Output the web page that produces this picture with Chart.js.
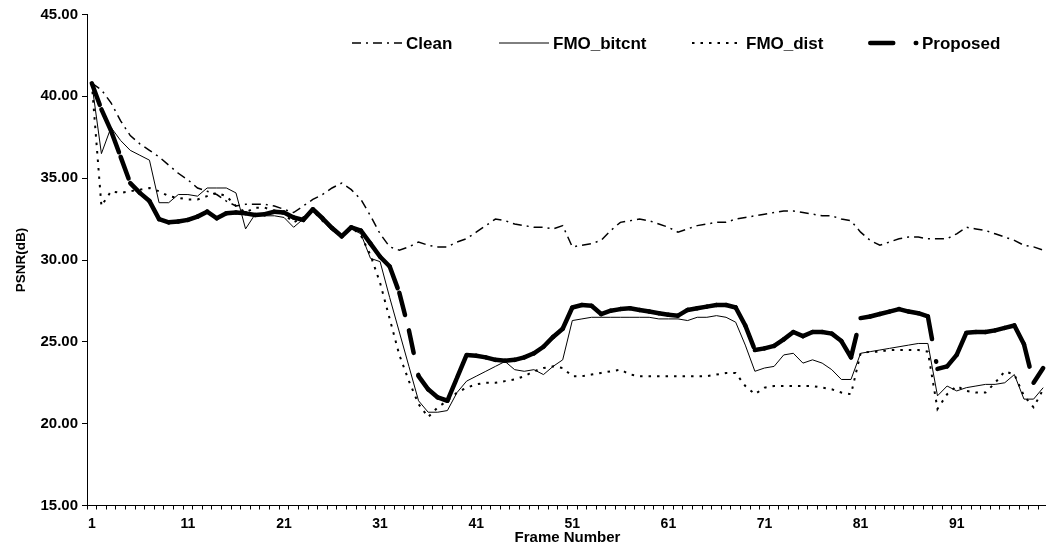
<!DOCTYPE html>
<html>
<head>
<meta charset="utf-8">
<script src="https://cdn.jsdelivr.net/npm/chart.js@4.4.1/dist/chart.umd.min.js"></script>
<style>
  html, body { margin: 0; padding: 0; background: #ffffff; overflow: hidden; width: 1046px; height: 549px; }
  #wrap { width: 1050px; height: 549px; }
  canvas { display: block; }
</style>
</head>
<body>
<div id="wrap"><canvas id="c" width="1050" height="549"></canvas></div>
<script>
// ---------------- DATA ----------------
const frames = [1,2,3,4,5,6,7,8,9,10,11,12,13,14,15,16,17,18,19,20,
  21,22,23,24,25,26,27,28,29,30,31,32,33,34,35,36,37,38,39,40,
  41,42,43,44,45,46,47,48,49,50,51,52,53,54,55,56,57,58,59,60,
  61,62,63,64,65,66,67,68,69,70,71,72,73,74,75,76,77,78,79,80,
  81,82,83,84,85,86,87,88,89,90,91,92,93,94,95,96,97,98,99,100];

const xTickLabels = [1, 11, 21, 31, 41, 51, 61, 71, 81, 91];
const yMin = 15, yMax = 45, yStep = 5;

const seriesNames = ['Clean', 'FMO_bitcnt', 'FMO_dist', 'Proposed'];

const clean = [40.8,40.4,39.6,38.5,37.6,37.1,36.7,36.3,35.8,35.3,
  34.9,34.4,34.2,34.0,33.6,33.3,33.4,33.4,33.4,33.3,
  33.1,32.9,33.3,33.7,34.0,34.4,34.7,34.3,33.7,32.7,
  31.6,30.8,30.6,30.8,31.1,30.9,30.8,30.8,31.1,31.3,
  31.7,32.1,32.5,32.4,32.2,32.1,32.0,32.0,31.9,32.1,
  30.8,30.9,31.0,31.2,31.8,32.3,32.4,32.5,32.4,32.2,
  32.0,31.7,31.9,32.1,32.2,32.3,32.3,32.5,32.6,32.7,
  32.8,32.9,33.0,33.0,32.9,32.8,32.7,32.7,32.5,32.4,
  31.7,31.2,30.9,31.1,31.3,31.4,31.4,31.3,31.3,31.3,
  31.6,32.0,31.9,31.8,31.6,31.4,31.2,30.9,30.8,30.6];

const fmoBitcnt = [40.8,36.5,38.1,37.3,36.7,36.4,36.1,33.5,33.5,34.0,
  34.0,33.9,34.4,34.4,34.4,34.1,31.9,32.8,32.7,32.7,
  32.6,32.0,32.5,33.0,32.4,31.8,31.4,31.9,31.6,30.1,
  29.9,27.7,25.6,23.5,21.4,20.7,20.7,20.8,21.9,22.6,
  22.9,23.2,23.5,23.8,23.3,23.2,23.3,23.0,23.5,23.9,
  26.3,26.4,26.5,26.5,26.5,26.5,26.5,26.5,26.5,26.4,
  26.4,26.4,26.3,26.5,26.5,26.6,26.5,26.2,24.8,23.2,
  23.4,23.5,24.2,24.3,23.7,23.9,23.7,23.3,22.7,22.7,
  24.3,24.4,24.5,24.6,24.7,24.8,24.9,24.9,21.7,22.3,
  22.0,22.2,22.3,22.4,22.4,22.5,23.0,21.5,21.5,22.2];

const fmoDist = [40.8,33.3,34.2,34.1,34.2,34.3,34.4,34.2,33.9,33.8,
  33.7,33.7,33.9,34.1,33.9,33.3,32.9,33.2,33.2,33.0,
  32.8,32.3,32.6,33.0,32.4,31.9,31.5,32.0,31.5,30.3,
  28.6,26.4,24.2,22.6,21.2,20.4,21.0,21.4,21.9,22.2,
  22.4,22.5,22.5,22.6,22.7,22.9,23.2,23.4,23.5,23.4,
  22.9,22.9,23.0,23.1,23.2,23.3,23.0,22.9,22.9,22.9,
  22.9,22.9,22.9,22.9,22.9,23.0,23.1,23.1,22.3,21.8,
  22.2,22.3,22.3,22.3,22.3,22.3,22.2,22.1,21.9,21.8,
  24.3,24.4,24.4,24.5,24.5,24.5,24.5,24.4,20.9,21.8,
  22.3,22.0,21.9,21.9,22.5,23.2,23.0,21.7,21.0,22.1];

const proposed = [40.8,39.2,37.9,36.3,34.7,34.1,33.6,32.5,32.3,32.35,
  32.45,32.65,32.95,32.55,32.85,32.9,32.85,32.75,32.8,32.95,
  32.9,32.6,32.45,33.1,32.55,31.95,31.45,32.0,31.8,31.0,
  30.2,29.6,28.0,25.7,22.9,22.1,21.6,21.4,22.8,24.2,
  24.15,24.05,23.9,23.85,23.9,24.05,24.3,24.7,25.3,25.8,
  27.1,27.25,27.2,26.7,26.9,27.0,27.05,26.95,26.85,26.75,
  26.65,26.6,26.95,27.05,27.15,27.25,27.25,27.1,26.0,24.5,
  24.6,24.75,25.15,25.6,25.35,25.6,25.6,25.5,25.05,24.05,
  26.45,26.55,26.7,26.85,27.0,26.85,26.75,26.55,23.35,23.5,
  24.2,25.55,25.6,25.6,25.7,25.85,26.0,24.85,22.5,23.4];

// ---------------- STYLE ----------------
const FONT = '"Liberation Sans", Arial, Helvetica, sans-serif';
Chart.defaults.font.family = FONT;
Chart.defaults.color = '#000';

const inlineLegend = {
  id: 'inlineLegend',
  afterDatasetsDraw(chart) {
    const ctx = chart.ctx;
    const starts = [352, 499, 692, 868];
    const y = 43;
    ctx.save();
    ctx.font = 'bold 17px ' + FONT;
    ctx.textBaseline = 'middle';
    ctx.textAlign = 'left';
    chart.data.datasets.forEach((ds, i) => {
      const x = starts[i];
      ctx.save();
      ctx.strokeStyle = ds.borderColor;
      ctx.lineWidth = ds.borderWidth;
      ctx.setLineDash(ds.borderDash || []);
      ctx.lineCap = ds.borderCapStyle || 'butt';
      const inset = ds.borderCapStyle === 'round' ? ds.borderWidth / 2 : 0;
      ctx.beginPath();
      ctx.moveTo(x + inset, y);
      ctx.lineTo(x + 50, y);
      ctx.stroke();
      ctx.restore();
      ctx.fillStyle = '#000';
      ctx.fillText(ds.label, x + 54, y + 1);
    });
    ctx.restore();
  }
};

new Chart(document.getElementById('c'), {
  type: 'line',
  data: {
    labels: frames.map(String),
    datasets: [
      { label: seriesNames[0], data: clean, borderColor: '#000', borderWidth: 1.5,
        borderDash: [9, 5, 2, 5], pointRadius: 0, tension: 0, fill: false },
      { label: seriesNames[1], data: fmoBitcnt, borderColor: '#000', borderWidth: 1,
        pointRadius: 0, tension: 0, fill: false },
      { label: seriesNames[2], data: fmoDist, borderColor: '#000', borderWidth: 2,
        borderDash: [2.5, 6], pointRadius: 0, tension: 0, fill: false },
      { label: seriesNames[3], data: proposed, borderColor: '#000', borderWidth: 4.5,
        borderDash: [23, 22.5, 0.5, 22.5], borderCapStyle: 'round', borderJoinStyle: 'round',
        segment: { borderDashOffset: c => (c.p0DataIndex % 2) * 0.01 },
        pointRadius: 0, tension: 0, fill: false }
    ]
  },
  options: {
    responsive: false,
    animation: false,
    devicePixelRatio: 1,
    layout: { padding: { top: 14.5, right: 2, bottom: 0, left: 0 } },
    plugins: { legend: { display: false }, tooltip: { enabled: false } },
    scales: {
      x: {
        type: 'category',
        offset: true,
        ticks: {
          autoSkip: false, maxRotation: 0, minRotation: 0,
          callback: (v, i) => xTickLabels.includes(frames[i]) ? String(frames[i]) : '',
          font: { size: 14, weight: 'bold' }, color: '#000', padding: 6
        },
        grid: { drawOnChartArea: false, offset: true, tickLength: 4, color: '#000' },
        border: { color: '#000', width: 1 },
        title: { display: true, text: 'Frame Number', color: '#000',
          font: { size: 15, weight: 'bold' }, padding: { top: 0, bottom: 2 } },
        afterFit: s => { s.height = 43.5; }
      },
      y: {
        min: yMin, max: yMax,
        ticks: { stepSize: yStep, callback: v => Number(v).toFixed(2),
          font: { size: 15, weight: 'bold' }, color: '#000', padding: 4 },
        grid: { drawOnChartArea: false, tickLength: 5, color: '#000' },
        border: { color: '#000', width: 1 },
        title: { display: true, text: 'PSNR(dB)', color: '#000',
          font: { size: 13.5, weight: 'bold' }, padding: { top: 13, bottom: 0 } },
        afterFit: s => { s.width = 87; }
      }
    }
  },
  plugins: [inlineLegend]
});
</script>
</body>
</html>
